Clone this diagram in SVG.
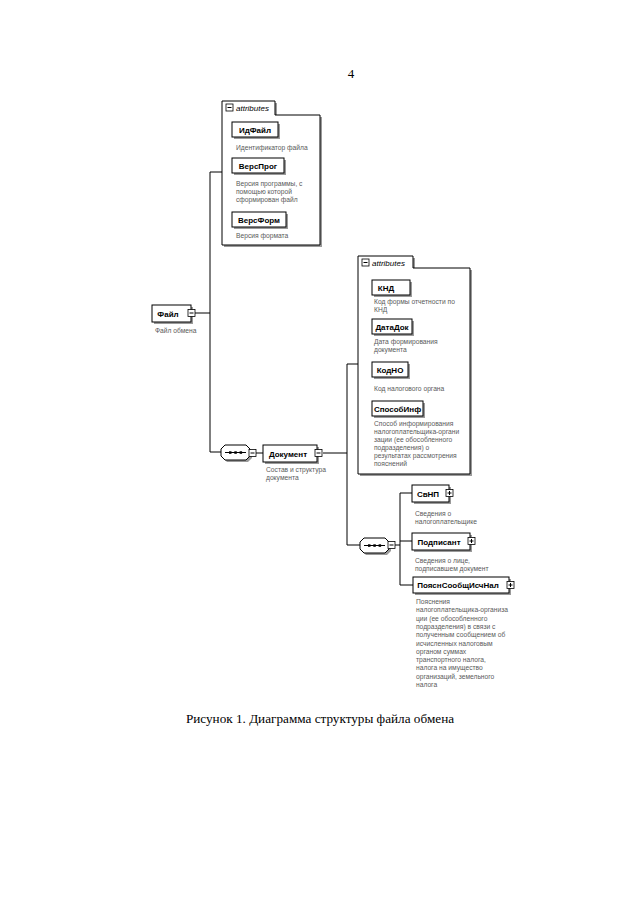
<svg xmlns="http://www.w3.org/2000/svg" width="640" height="922" viewBox="0 0 640 922">
<style>
.bg{fill:#fff}
.box{fill:#fff;stroke:#000;stroke-width:1}
.sh{fill:#9a9a9a}
.ln{stroke:#000;stroke-width:1;fill:none}
.lbl{font-family:"Liberation Sans",Arial,sans-serif;font-weight:bold;font-size:8px;fill:#000}
.desc{font-family:"Liberation Sans",Arial,sans-serif;font-size:6.7px;fill:#5a5a5a}
.att{font-family:"Liberation Sans",Arial,sans-serif;font-style:italic;font-size:8px;fill:#000}
.ico{fill:#fff;stroke:#000;stroke-width:0.8}
.cap{font-family:"Liberation Serif","Times New Roman",serif;font-size:13.2px;fill:#000}
</style>
<defs>
<g id="minus"><rect class="ico" x="0" y="0" width="7" height="7"/><path class="ln" d="M1.5,3.5H5.5" stroke-width="0.9"/></g>
<g id="plus"><rect class="ico" x="0" y="0" width="7" height="7"/><path class="ln" d="M1.5,3.5H5.5M3.5,1.5V5.5" stroke-width="0.9"/></g>
<g id="seq">
<path class="sh" d="M7,2H28L32,6V13L28,17H7L3,13V6Z"/>
<path class="box" d="M5,0H26L30,4V11L26,15H5L1,11V4Z"/>
<path class="ln" d="M5,7.5H26"/>
<rect x="9" y="6.3" width="2.5" height="2.5" fill="#000"/>
<rect x="14.3" y="6.3" width="2.5" height="2.5" fill="#000"/>
<rect x="19.6" y="6.3" width="2.5" height="2.5" fill="#000"/>
</g>
</defs>
<rect class="bg" x="0" y="0" width="640" height="922"/>
<text x="351" y="78" font-family="Liberation Serif,serif" font-size="13" text-anchor="middle">4</text>

<g id="connectors">
<path class="ln" d="M195,313H210M210,172V452M210,172H222M210,452H222"/>
<path class="ln" d="M256,453H263M323,453H347M347,364V545M347,364H358M347,545H360"/>
<path class="ln" d="M394,545H400M400,493V585M400,493H412M400,541H412M400,585H413"/>
</g>

<g id="attributes1">
<path class="sh" d="M224,247V103H277V117H322V247Z"/>
<path class="box" d="M222,245V101H275V115H320V245Z"/>
<use href="#minus" x="226" y="104"/>
<text class="att" x="236" y="111">attributes</text>
</g>
<g id="ИдФайл">
<rect class="sh" x="234" y="124" width="46" height="15"/>
<rect class="box" x="232" y="122" width="46" height="15"/>
<text class="lbl" x="255" y="132.5" text-anchor="middle">ИдФайл</text>
<text class="desc" x="236" y="150">Идентификатор файла</text>
</g>
<g id="ВерсПрог">
<rect class="sh" x="234" y="160" width="52" height="15"/>
<rect class="box" x="232" y="158" width="52" height="15"/>
<text class="lbl" x="258" y="168.5" text-anchor="middle">ВерсПрог</text>
<text class="desc" x="236" y="186">Версия программы, с</text>
<text class="desc" x="236" y="194">помощью которой</text>
<text class="desc" x="236" y="202">сформирован файл</text>
</g>
<g id="ВерсФорм">
<rect class="sh" x="234" y="214" width="54" height="15"/>
<rect class="box" x="232" y="212" width="54" height="15"/>
<text class="lbl" x="259" y="222.5" text-anchor="middle">ВерсФорм</text>
<text class="desc" x="236" y="238">Версия формата</text>
</g>

<g id="Файл">
<rect class="sh" x="154" y="307" width="39" height="17"/>
<rect class="box" x="152" y="305" width="39" height="17"/>
<text class="lbl" x="168" y="316.5" text-anchor="middle">Файл</text>
<use href="#minus" x="188" y="309.5"/>
<text class="desc" x="155" y="333">Файл обмена</text>
</g>

<g id="sequence1"><use href="#seq" x="220" y="445"/><use href="#minus" x="249" y="449.5"/></g>

<g id="Документ">
<rect class="sh" x="265" y="447" width="54" height="17"/>
<rect class="box" x="263" y="445" width="54" height="17"/>
<text class="lbl" x="288" y="456.5" text-anchor="middle">Документ</text>
<use href="#minus" x="315" y="449.5"/>
<text class="desc" x="266" y="472">Состав и структура</text>
<text class="desc" x="266" y="480">документа</text>
</g>

<g id="attributes2">
<path class="sh" d="M360,476V258H415V270H472V476Z"/>
<path class="box" d="M358,474V256H413V268H470V474Z"/>
<use href="#minus" x="362" y="259"/>
<text class="att" x="372" y="266">attributes</text>
</g>
<g id="КНД">
<rect class="sh" x="374" y="282" width="38" height="15"/>
<rect class="box" x="372" y="280" width="38" height="15"/>
<text class="lbl" x="386" y="290.5" text-anchor="middle">КНД</text>
<text class="desc" x="374" y="304">Код формы отчетности по</text>
<text class="desc" x="374" y="312">КНД</text>
</g>
<g id="ДатаДок">
<rect class="sh" x="374" y="321" width="40" height="15"/>
<rect class="box" x="372" y="319" width="40" height="15"/>
<text class="lbl" x="392" y="329.5" text-anchor="middle">ДатаДок</text>
<text class="desc" x="374" y="344">Дата формирования</text>
<text class="desc" x="374" y="352">документа</text>
</g>
<g id="КодНО">
<rect class="sh" x="374" y="364" width="36" height="15"/>
<rect class="box" x="372" y="362" width="36" height="15"/>
<text class="lbl" x="390" y="372.5" text-anchor="middle">КодНО</text>
<text class="desc" x="374" y="391">Код налогового органа</text>
</g>
<g id="СпособИнф">
<rect class="sh" x="374" y="403" width="51" height="15"/>
<rect class="box" x="372" y="401" width="51" height="15"/>
<text class="lbl" x="397.5" y="411.5" text-anchor="middle">СпособИнф</text>
<text class="desc" x="374" y="426">Способ информирования</text>
<text class="desc" x="374" y="434">налогоплательщика-органи</text>
<text class="desc" x="374" y="442">зации (ее обособленного</text>
<text class="desc" x="374" y="450">подразделения) о</text>
<text class="desc" x="374" y="458">результатах рассмотрения</text>
<text class="desc" x="374" y="466">пояснений</text>
</g>

<g id="sequence2"><use href="#seq" x="359" y="538"/><use href="#minus" x="388" y="541.5"/></g>

<g id="СвНП">
<rect class="sh" x="414" y="487" width="37" height="17"/>
<rect class="box" x="412" y="485" width="37" height="17"/>
<text class="lbl" x="428" y="496.5" text-anchor="middle">СвНП</text>
<use href="#plus" x="446" y="489.5"/>
<text class="desc" x="415" y="516">Сведения о</text>
<text class="desc" x="415" y="524">налогоплательщике</text>
</g>
<g id="Подписант">
<rect class="sh" x="414" y="535" width="58" height="17"/>
<rect class="box" x="412" y="533" width="58" height="17"/>
<text class="lbl" x="439" y="544.5" text-anchor="middle">Подписант</text>
<use href="#plus" x="468" y="537.5"/>
<text class="desc" x="415" y="563">Сведения о лице,</text>
<text class="desc" x="415" y="571">подписавшем документ</text>
</g>
<g id="ПояснСообщИсчНал">
<rect class="sh" x="415" y="579" width="96" height="16"/>
<rect class="box" x="413" y="577" width="96" height="16"/>
<text class="lbl" x="458" y="588" text-anchor="middle">ПояснСообщИсчНал</text>
<use href="#plus" x="507" y="581.5"/>
<text class="desc" x="416" y="604">Пояснения</text>
<text class="desc" x="416" y="612.3">налогоплательщика-организа</text>
<text class="desc" x="416" y="620.6">ции (ее обособленного</text>
<text class="desc" x="416" y="628.9">подразделения) в связи с</text>
<text class="desc" x="416" y="637.2">полученным сообщением об</text>
<text class="desc" x="416" y="645.5">исчисленных налоговым</text>
<text class="desc" x="416" y="653.8">органом суммах</text>
<text class="desc" x="416" y="662.1">транспортного налога,</text>
<text class="desc" x="416" y="670.4">налога на имущество</text>
<text class="desc" x="416" y="678.7">организаций, земельного</text>
<text class="desc" x="416" y="687">налога</text>
</g>

<text class="cap" x="320" y="723" text-anchor="middle">Рисунок 1. Диаграмма структуры файла обмена</text>
</svg>
